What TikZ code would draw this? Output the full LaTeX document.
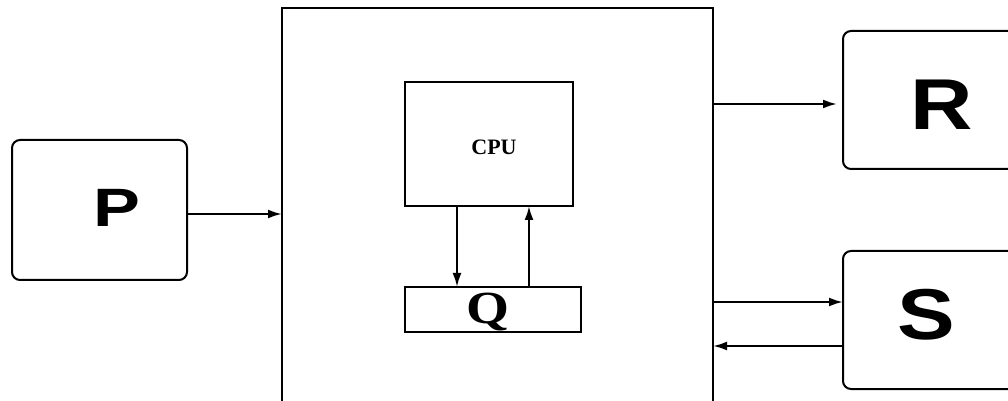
\documentclass[tikz,border=0pt]{standalone}
\usepackage{fontspec}
\setmainfont{Liberation Sans}
\newfontfamily\timesfont{Liberation Serif}
\usepackage{graphicx}
\usepackage{tikz}
\usetikzlibrary{arrows.meta,positioning}

\newcommand{\widelabel}[1]{\scalebox{1.2}[1]{#1}}

\begin{document}
\begin{tikzpicture}[x=0.5pt, y=-0.5pt, line width=1.1pt,
    roundbox/.style={draw, rounded corners=4pt, line width=1pt, inner sep=0pt, outer sep=0pt},
    plainbox/.style={draw, line width=1pt, inner sep=0pt, outer sep=0pt},
    bigletter/.style={font=\bfseries\fontsize{36}{36}\selectfont},
    >={Latex[length=7pt,width=4.5pt]}]
    \path[use as bounding box] (0,0) rectangle (1008,401);
    \clip (0,0) rectangle (1008,401);
    % system block, open below the frame
    \node[plainbox, line width=1.4pt, minimum width=215.5pt, minimum height=211pt] (sys) at (497.5,219) {};
    \node[plainbox, minimum width=84pt, minimum height=62pt] (cpu) at (489,144) {};
    \node[font=\timesfont\bfseries\fontsize{11}{11}\selectfont, anchor=base] (cpulabel) at (494,155) {CPU};
    \node[plainbox, minimum width=88pt, minimum height=22.5pt] (q) at (493,309.5) {};
    \node[font=\timesfont\bfseries\fontsize{23}{23}\selectfont, anchor=base] (qlabel) at (488,323) {\widelabel{Q}};
    % outer blocks
    \node[roundbox, minimum width=87.5pt, minimum height=70pt] (P) at (99.5,210) {};
    \node[bigletter, font=\bfseries\fontsize{27}{27}\selectfont] (plabel) at (117,208) {\scalebox{1.3}[1]{P}};
    \node[roundbox, minimum width=99pt, minimum height=69pt] (R) at (942,100) {};
    \node[bigletter] (rlabel) at (942,105) {\widelabel{R}};
    \node[roundbox, minimum width=100pt, minimum height=69pt] (S) at (943,320) {};
    \node[bigletter] (slabel) at (926,315) {\widelabel{S}};
    % connections
    \draw[->] ([yshift=-2pt]P.east) -- ([yshift=-2pt]P.east -| sys.west);
    \draw[->, shorten >=3pt] ([yshift=-2pt]R.west -| sys.east) -- ([yshift=-2pt]R.west);
    \draw[->] ([yshift=9pt]S.west -| sys.east) -- ([yshift=9pt]S.west);
    \draw[->] ([yshift=-13pt]S.west) -- ([yshift=-13pt]S.west -| sys.east);
    \draw[->] ([xshift=-16pt]cpu.south) -- ([xshift=-16pt]cpu.south |- q.north);
    \draw[->] ([xshift=20pt]cpu.south |- q.north) -- ([xshift=20pt]cpu.south);
\end{tikzpicture}
\end{document}
